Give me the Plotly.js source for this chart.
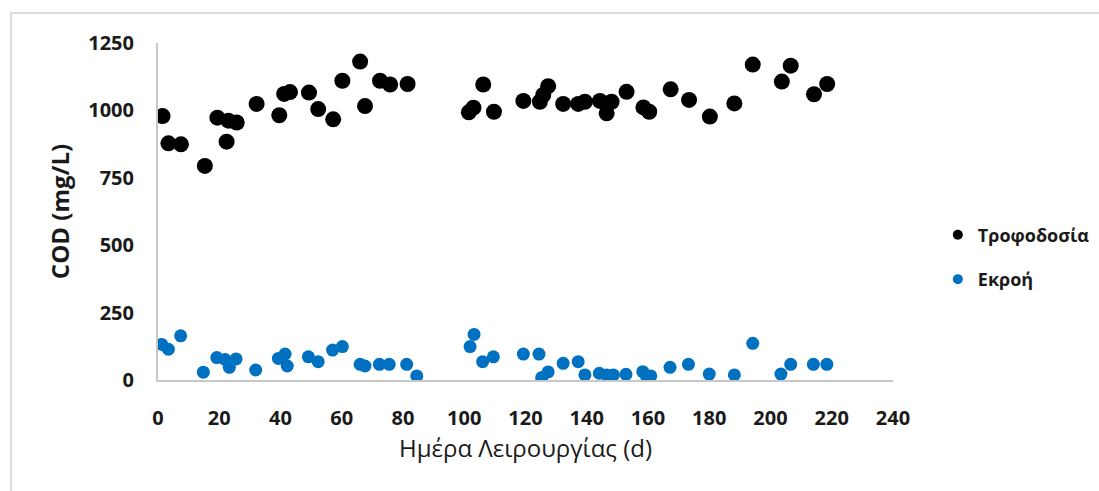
<!DOCTYPE html>
<html>
<head>
<meta charset="utf-8">
<script src="https://cdn.plot.ly/plotly-3.0.1.min.js"></script>
<style>
html,body{margin:0;padding:0;background:#fff;overflow:hidden;}
#wrap{position:relative;width:1099px;height:491px;}
#frame{position:absolute;left:10px;top:12px;width:1200px;height:600px;border:2px solid #dcdcdc;box-sizing:border-box;pointer-events:none;}
#chart{position:absolute;left:0;top:0;width:1099px;height:491px;}
</style>
</head>
<body>
<div id="wrap"><div id="frame"></div><div id="chart"></div></div>
<script>
// Feed (Τροφοδοσία)
const feedDays = [1.5,3.4,7.5,15.3,19.4,22.4,23,25.7,32.2,39.6,41.2,43.1,49.3,52.3,57.2,60.2,66,67.6,72.5,75.8,81.5,
  101.5,103,106.2,109.7,119.3,124.7,125.8,127.4,132.3,137.2,139.4,144.3,146.5,148.1,153,158.5,160.4,167.4,173.4,180.2,188.2,194.2,203.7,206.6,214.2,218.5];
const feedCOD = [979,878,874,794,973,884,962,955,1024,982,1061,1068,1066,1005,967,1110,1181,1016,1110,1096,1098,
  993,1010,1096,995,1035,1032,1057,1090,1024,1024,1032,1035,989,1032,1069,1011,995,1078,1039,977,1026,1170,1107,1166,1060,1098];
// Effluent (Εκροή)
const effDays = [1.2,3.4,7.4,14.8,19.2,21.9,23.3,25.5,31.9,39.3,41.5,42.2,49.1,52.3,57,60.2,66,67.6,72.3,75.5,81.2,84.5,
  101.9,103.2,106,109.5,119.3,124.4,125.3,127.4,132.3,137.2,139.4,144.1,146.5,148.7,152.8,158.3,159.6,160.9,167.2,173.2,180,188.2,194.2,203.4,206.6,214,218.4];
const effCOD = [132,114,164,29,83,76,47,78,37,80,96,52,86,68,111,124,58,52,58,58,58,15,
  124,169,68,86,96,96,9,30,62,68,19,25,19,19,21,31,12,15,47,58,22,19,136,22,58,58,58];
const seriesNames = ['Τροφοδοσία','Εκροή'];
const xTicks = [0,20,40,60,80,100,120,140,160,180,200,220,240];
const yTicks = [0,250,500,750,1000,1250];

const FAM = '"Open Sans", "Noto Sans", sans-serif';
const tickFont = {family:FAM, size:20, color:'#1a1a1a', weight:700};
const traces = [
  {x:feedDays, y:feedCOD, type:'scatter', mode:'markers', name:seriesNames[0], showlegend:false,
   marker:{color:'#000000', size:16}},
  {x:effDays, y:effCOD, type:'scatter', mode:'markers', name:seriesNames[1], showlegend:false,
   marker:{color:'#0070C0', size:13}},
  {x:[null], y:[null], type:'scatter', mode:'markers', name:seriesNames[0], legendgroup:'a',
   marker:{color:'#000000', size:10}},
  {x:[null], y:[null], type:'scatter', mode:'markers', name:seriesNames[1], legendgroup:'b',
   marker:{color:'#0070C0', size:10}}
];
const layout = {
  width:1099, height:491,
  margin:{l:158, r:206, t:43, b:111, pad:0, autoexpand:false},
  paper_bgcolor:'rgba(0,0,0,0)', plot_bgcolor:'rgba(0,0,0,0)',
  showlegend:true,
  legend:{x:1.061, xanchor:'left', y:0.485, yanchor:'top', traceorder:'grouped', tracegroupgap:18,
    font:{family:FAM, size:18, color:'#1a1a1a', weight:700},
    bgcolor:'rgba(0,0,0,0)', itemsizing:'trace'},
  xaxis:{range:[0,240], tickvals:xTicks, ticktext:xTicks.map(String), showgrid:false, zeroline:false,
    showline:true, linecolor:'#c8c8c8', linewidth:2, ticks:'', ticklabelstandoff:19, tickfont:tickFont,
    title:{text:'Ημέρα Λειρουργίας (d)', standoff:4,
      font:{family:FAM, size:24, color:'#1a1a1a'}}},
  yaxis:{range:[0,1250], tickvals:yTicks, ticktext:yTicks.map(String), showgrid:false, zeroline:false,
    showline:true, linecolor:'#c8c8c8', linewidth:2, ticks:'', ticklabelstandoff:18, tickfont:tickFont,
    title:{text:'COD (mg/L)', standoff:12,
      font:{family:FAM, size:24, color:'#1a1a1a', weight:700}}}
};
Plotly.newPlot('chart', traces, layout, {displayModeBar:false, staticPlot:true});
</script>
</body>
</html>
